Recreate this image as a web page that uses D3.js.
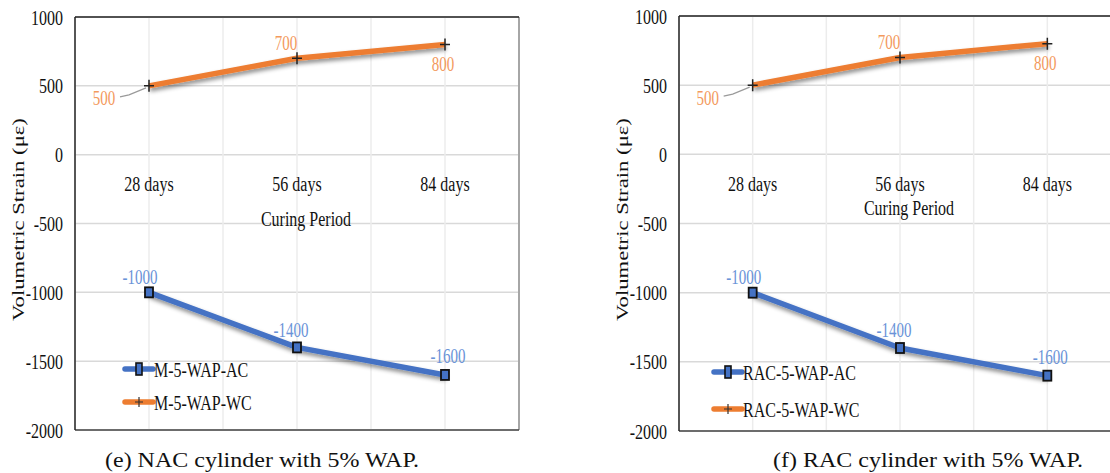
<!DOCTYPE html>
<html>
<head>
<meta charset="utf-8">
<script src="https://cdn.jsdelivr.net/npm/d3@7"></script>
<style>
  body { margin: 0; background: #fff; }
  text { font-family: "Liberation Serif", "Times New Roman", serif; }
</style>
</head>
<body>
<script>
// Chart data
var categories = ["28 days", "56 days", "84 days"];
var acValues = [-1000, -1400, -1600];
var wcValues = [500, 700, 800];
var yTicks = [1000, 500, 0, -500, -1000, -1500, -2000];
var leftSeries = ["M-5-WAP-AC", "M-5-WAP-WC"];
var rightSeries = ["RAC-5-WAP-AC", "RAC-5-WAP-WC"];
var captions = ["(e) NAC cylinder with 5% WAP.", "(f) RAC cylinder with 5% WAP."];

var blue = "#4472C4", orange = "#ED7D31";
var blueLabel = "#6a93d8", orangeLabel = "#f39a5e";

var svg = d3.select("body")
    .append("svg")
        .attr("width", 1110)
        .attr("height", 473);

// soft shadow under the lines
var filt = svg.append("defs").append("filter")
    .attr("id", "shadow")
    .attr("x", "-20%").attr("y", "-50%")
    .attr("width", "140%").attr("height", "200%");
filt.append("feDropShadow")
    .attr("dx", 1).attr("dy", 3)
    .attr("stdDeviation", 2)
    .attr("flood-color", "#000")
    .attr("flood-opacity", 0.45);

// text that is a bit taller than wide, as in the picture
function stretched(g, x, y, str, size, sy) {
    return g.append("text")
        .attr("transform", "translate(" + x + "," + y + ") scale(1," + sy + ")")
        .attr("dy", "0.35em")
        .style("font-size", size + "px")
        .text(str);
}

function drawPanel(p) {
    var g = svg.append("g");

    var x = d3.scaleBand().domain(categories).range([p.left, p.left + p.width]);
    var y = d3.scaleLinear().domain([-2000, 1000]).range([p.bottom, p.top]);
    var cx = function(c) { return x(c) + x.bandwidth() / 2; };

    // horizontal grid
    g.selectAll(".hgrid")
        .data(yTicks)
        .enter().append("line")
        .attr("x1", p.left).attr("x2", p.left + p.width)
        .attr("y1", function(d) { return y(d); })
        .attr("y2", function(d) { return y(d); })
        .attr("stroke", "#d9d9d9")
        .attr("stroke-width", 1.5);

    // vertical grid at band edges and centres
    var vx = [];
    categories.forEach(function(c) { vx.push(x(c)); vx.push(cx(c)); });
    g.selectAll(".vgrid")
        .data(vx)
        .enter().append("line")
        .attr("x1", function(d) { return d; })
        .attr("x2", function(d) { return d; })
        .attr("y1", p.top).attr("y2", p.bottom)
        .attr("stroke", "#ececec")
        .attr("stroke-width", 1.5);

    // frame
    g.append("line")
        .attr("x1", p.left + p.width).attr("x2", p.left + p.width)
        .attr("y1", p.top).attr("y2", p.bottom)
        .attr("stroke", "#a6a6a6").attr("stroke-width", 2);
    g.append("line")
        .attr("x1", p.left).attr("x2", p.left + p.width)
        .attr("y1", p.top).attr("y2", p.top)
        .attr("stroke", "#222").attr("stroke-width", 1.5);
    g.append("line")
        .attr("x1", p.left).attr("x2", p.left + p.width)
        .attr("y1", p.bottom).attr("y2", p.bottom)
        .attr("stroke", "#444").attr("stroke-width", 1.5);
    g.append("line")
        .attr("x1", p.left).attr("x2", p.left)
        .attr("y1", p.top).attr("y2", p.bottom)
        .attr("stroke", "#222").attr("stroke-width", 1.5);

    // y tick labels
    yTicks.forEach(function(t) {
        stretched(g, p.left - 12, y(t), t, 16, 1.35)
            .attr("text-anchor", "end")
            .attr("fill", "#111");
    });

    // category labels under the zero line
    categories.forEach(function(c) {
        stretched(g, cx(c), y(0) + 29, c, 16, 1.35)
            .attr("text-anchor", "middle")
            .attr("fill", "#111");
    });
    stretched(g, p.left + p.width / 2 + 9, p.xTitleY, "Curing Period", 16, 1.35)
        .attr("text-anchor", "middle")
        .attr("fill", "#111");

    // y axis title
    g.append("text")
        .attr("transform", "translate(" + p.yTitleX + "," + ((p.top + p.bottom) / 2 - 4) + ") rotate(-90) scale(1.42,1)")
        .attr("text-anchor", "middle")
        .attr("dy", "0.35em")
        .style("font-size", "16px")
        .attr("fill", "#111")
        .text("Volumetric Strain (\u03bc\u03b5)");

    var line = d3.line()
        .x(function(d, i) { return cx(categories[i]); })
        .y(function(d) { return y(d); });

    // series lines
    g.append("path")
        .attr("d", line(acValues))
        .attr("fill", "none")
        .attr("stroke", blue)
        .attr("stroke-width", 5.5)
        .attr("stroke-linejoin", "round")
        .attr("filter", "url(#shadow)");
    g.append("path")
        .attr("d", line(wcValues))
        .attr("fill", "none")
        .attr("stroke", orange)
        .attr("stroke-width", 5.5)
        .attr("stroke-linejoin", "round")
        .attr("filter", "url(#shadow)");

    // markers
    acValues.forEach(function(v, i) {
        g.append("rect")
            .attr("x", cx(categories[i]) - 4).attr("y", y(v) - 5)
            .attr("width", 8).attr("height", 10)
            .attr("fill", blue)
            .attr("stroke", "#111").attr("stroke-width", 1.8);
    });
    wcValues.forEach(function(v, i) {
        var px = cx(categories[i]), py = y(v);
        g.append("path")
            .attr("d", "M" + (px - 5) + "," + py + "H" + (px + 5) + "M" + px + "," + (py - 6) + "V" + (py + 6))
            .attr("stroke", "#222").attr("stroke-width", 1.5);
    });

    // data labels
    var wcOff = [[-45, 12], [-11, -16], [-2, 19]];
    var acOff = [[-9, -16], [-6, -18], [3, -19]];
    wcValues.forEach(function(v, i) {
        stretched(g, cx(categories[i]) + wcOff[i][0], y(v) + wcOff[i][1], v, 15, 1.4)
            .attr("text-anchor", "middle")
            .attr("fill", orangeLabel);
    });
    acValues.forEach(function(v, i) {
        stretched(g, cx(categories[i]) + acOff[i][0], y(v) + acOff[i][1], v, 15, 1.4)
            .attr("text-anchor", "middle")
            .attr("fill", blueLabel);
    });
    // leader line for the first label
    var lx = cx(categories[0]), ly = y(wcValues[0]);
    g.append("path")
        .attr("d", "M" + (lx - 29) + "," + (ly + 11) + "L" + (lx - 20) + "," + (ly + 9) + "L" + (lx - 3) + "," + (ly + 2))
        .attr("fill", "none")
        .attr("stroke", "#9a9a9a").attr("stroke-width", 1.2);

    // legend
    var colors = [blue, orange];
    p.names.forEach(function(name, i) {
        var ly = p.legendY[i], lx = p.legendX;
        g.append("line")
            .attr("x1", lx).attr("x2", lx + 28)
            .attr("y1", ly).attr("y2", ly)
            .attr("stroke", colors[i]).attr("stroke-width", 5.5)
            .attr("stroke-linecap", "round");
        if (i === 0) {
            g.append("rect")
                .attr("x", lx + 11).attr("y", ly - 6)
                .attr("width", 6).attr("height", 12)
                .attr("fill", blue)
                .attr("stroke", "#111").attr("stroke-width", 1.6);
        } else {
            g.append("path")
                .attr("d", "M" + (lx + 10) + "," + ly + "H" + (lx + 18) + "M" + (lx + 14) + "," + (ly - 5) + "V" + (ly + 5))
                .attr("stroke", "#333").attr("stroke-width", 1.2);
        }
        stretched(g, lx + 29, ly, name, 16, 1.35)
            .attr("fill", "#111");
    });

    // caption
    g.append("text")
        .attr("transform", "translate(" + p.captionX + ",467) scale(1,0.86)")
        .style("font-size", "24px")
        .attr("fill", "#111")
        .text(p.caption);
}

drawPanel({
    left: 75, width: 444, top: 17, bottom: 430,
    yTitleX: 18, xTitleY: 218,
    names: leftSeries, legendX: 125, legendY: [369, 402],
    caption: captions[0], captionX: 105
});

drawPanel({
    left: 679, width: 442, top: 16, bottom: 431,
    yTitleX: 622, xTitleY: 207,
    names: rightSeries, legendX: 714, legendY: [372, 409],
    caption: captions[1], captionX: 773
});
</script>
</body>
</html>
